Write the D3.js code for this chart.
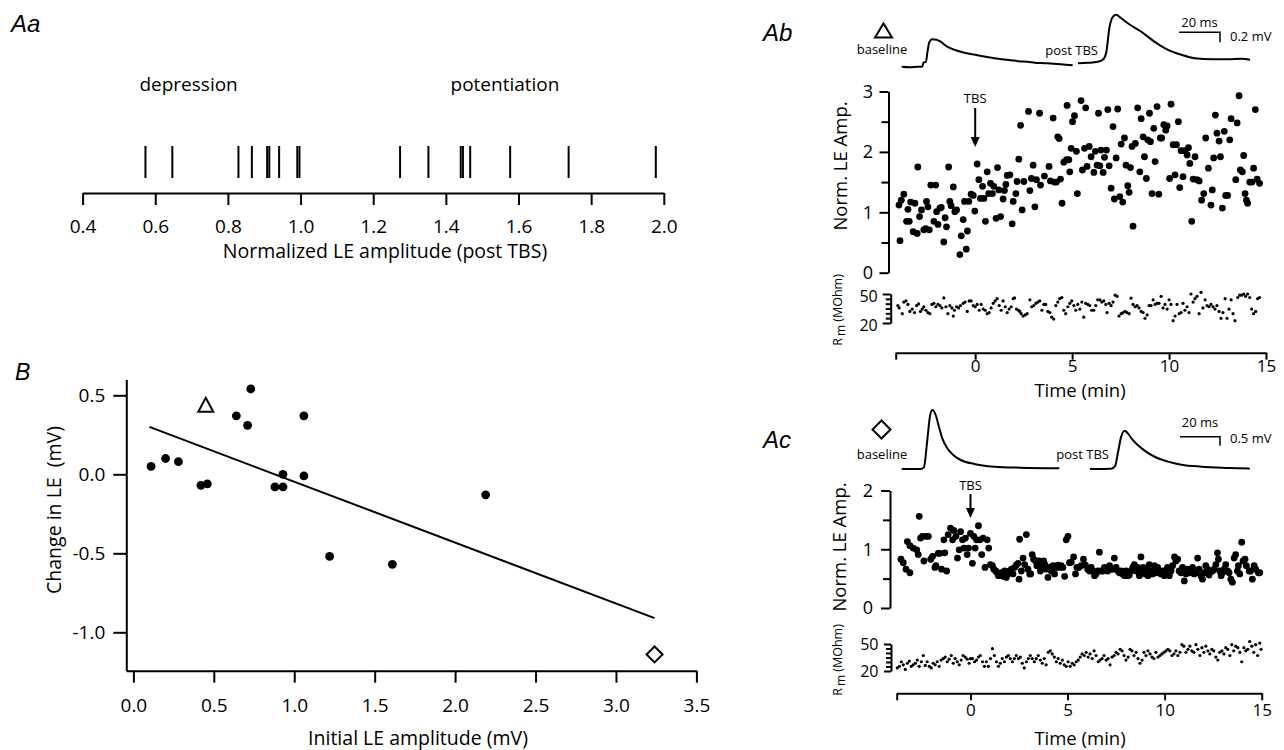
<!DOCTYPE html>
<html>
<head>
<meta charset="utf-8">
<script src="https://cdn.jsdelivr.net/npm/d3@7"></script>
<style>
  body { margin: 0; background: #fff; }
  svg text { fill: #000; }
</style>
</head>
<body>
<svg id="fig" width="1284" height="750"></svg>
<script>
// ---------- Aa : one line per cell, normalized LE amplitude after TBS
var rasterValues = [0.573, 0.647, 0.829, 0.866, 0.908, 0.914, 0.941, 0.991, 0.997, 1.274, 1.352, 1.441, 1.447, 1.467, 1.577, 1.738, 1.978];
var rasterTicks = [0.4, 0.6, 0.8, 1.0, 1.2, 1.4, 1.6, 1.8, 2.0];

// ---------- B : initial amplitude vs change
var initialAmp = [0.11, 0.20, 0.28, 0.42, 0.46, 0.64, 0.71, 0.73, 0.88, 0.93, 0.93, 1.06, 1.06, 1.22, 1.61, 2.19];
var changeLE   = [0.05, 0.10, 0.08, -0.07, -0.06, 0.37, 0.31, 0.54, -0.08, 0.00, -0.08, 0.37, -0.01, -0.52, -0.57, -0.13];
var triangleCell = [0.45, 0.44];
var diamondCell = [3.24, -1.14];
var fitX = [0.10, 3.24];
var fitY = [0.30, -0.91];
var bTicksX = [0, 0.5, 1.0, 1.5, 2.0, 2.5, 3.0, 3.5];
var bTicksY = [-1.0, -0.5, 0.0, 0.5];

// ---------- Ab : potentiated cell (triangle)
var abTime = [-3.88,-3.93,-3.81,-3.68,-3.47,-3.54,-3.40,-3.33,-3.20,-3.11,-2.96,-2.99,-2.87,-2.77,-2.65,-2.56,-2.51,-2.44,-2.37,-2.29,-2.13,-2.04,-1.99,-1.92,-1.82,-1.75,-1.62,-1.55,-1.48,-1.37,-1.31,-1.24,-1.13,-1.05,-0.96,-0.79,-0.72,-0.62,-0.55,-0.46,-0.40,-0.33,-0.21,-0.10,-0.02,0.10,0.19,0.27,0.38,0.45,0.53,0.62,0.70,0.79,0.89,0.96,1.08,1.15,1.22,1.31,1.44,1.51,1.58,1.65,1.79,1.91,1.96,2.10,2.16,2.25,2.34,2.42,2.51,2.75,2.82,2.90,2.99,3.08,3.16,3.32,3.37,3.57,3.81,3.88,4.02,4.09,4.19,4.26,4.33,4.40,4.48,4.57,4.71,4.74,4.83,4.88,4.95,5.02,5.12,5.22,5.27,5.46,5.53,5.64,5.70,5.77,5.88,5.98,6.12,6.20,6.29,6.36,6.43,6.49,6.60,6.67,6.77,6.84,6.91,7.01,7.11,7.18,7.27,7.35,7.46,7.53,7.61,7.70,7.78,7.87,7.94,8.01,8.09,8.14,8.26,8.38,8.49,8.56,8.66,8.73,8.83,8.90,8.99,9.04,9.12,9.21,9.28,9.38,9.47,9.55,9.62,9.73,9.83,9.90,10.03,10.10,10.21,10.31,10.38,10.48,10.55,10.62,10.72,10.82,10.93,11.00,11.07,11.17,11.24,11.34,11.44,11.55,11.68,11.79,11.89,12.03,12.16,12.23,12.30,12.39,12.47,12.58,12.65,12.75,12.85,12.92,13.02,13.13,13.20,13.44,13.51,13.61,13.68,13.78,13.85,13.92,13.99,14.05,14.16,14.28,14.36,14.45,14.54,14.67];
var abAmp = [0.53,1.12,1.20,1.30,1.05,0.85,0.85,1.17,0.68,1.15,1.75,0.65,0.93,1.04,0.71,0.73,1.18,1.09,0.71,1.45,0.85,1.45,1.01,0.80,1.07,1.08,0.51,0.91,0.76,1.75,1.18,1.11,1.42,1.01,1.04,0.30,0.61,0.88,1.18,0.39,0.69,1.18,1.30,1.28,1.02,1.80,1.54,1.23,1.43,1.23,0.85,1.67,1.31,1.48,1.31,1.43,0.90,1.74,1.37,0.93,1.22,1.36,1.46,1.61,1.62,0.81,1.18,1.31,1.51,1.88,2.44,1.04,1.51,2.67,1.36,1.56,1.78,1.09,1.54,2.64,1.45,1.60,1.76,1.52,2.56,1.50,1.50,2.25,2.22,1.55,1.15,1.83,1.87,2.77,1.87,1.67,2.06,2.50,2.60,2.01,1.31,2.85,1.70,2.06,2.73,1.76,2.09,1.92,1.66,2.01,1.78,2.64,1.77,2.03,1.66,1.91,2.03,2.70,1.77,1.40,2.42,1.22,1.90,2.71,1.26,2.13,1.17,2.23,1.78,1.44,1.33,1.74,2.09,0.77,2.14,2.73,1.67,2.55,2.25,1.92,1.56,2.20,2.64,2.17,1.31,2.39,1.84,2.75,1.30,2.23,2.23,2.45,2.36,2.43,1.56,2.79,2.12,1.62,2.12,2.50,1.41,2.02,1.59,2.02,1.95,2.07,1.81,0.85,1.55,1.92,1.54,1.52,1.20,1.31,2.23,1.73,1.12,1.37,1.90,2.61,2.31,2.18,1.92,1.07,2.34,1.28,1.28,2.20,2.55,1.54,2.48,2.93,1.70,1.67,1.94,1.31,1.20,1.15,1.50,1.50,1.73,2.70,1.55,1.48];
var abRmTime = [-3.99,-3.92,-3.76,-3.68,-3.57,-3.47,-3.37,-3.25,-3.13,-3.02,-2.92,-2.82,-2.73,-2.65,-2.54,-2.44,-2.34,-2.23,-2.13,-2.03,-1.92,-1.82,-1.72,-1.62,-1.51,-1.41,-1.31,-1.20,-1.13,-1.07,-0.96,-0.86,-0.76,-0.62,-0.52,-0.41,-0.31,-0.21,-0.10,0.00,0.10,0.21,0.31,0.41,0.52,0.62,0.72,0.82,0.93,1.03,1.13,1.24,1.34,1.44,1.55,1.65,1.75,1.86,1.96,2.03,2.13,2.23,2.30,2.37,2.47,2.58,2.68,2.82,2.92,3.02,3.13,3.23,3.33,3.44,3.54,3.64,3.75,3.85,3.95,4.05,4.16,4.26,4.36,4.47,4.57,4.67,4.78,4.88,4.98,5.09,5.19,5.29,5.40,5.50,5.60,5.70,5.81,5.91,6.01,6.12,6.22,6.32,6.43,6.53,6.63,6.74,6.80,6.91,7.01,7.11,7.22,7.32,7.42,7.53,7.63,7.73,7.84,7.94,8.04,8.14,8.25,8.35,8.45,8.56,8.66,8.76,8.87,8.97,9.07,9.18,9.28,9.38,9.48,9.59,9.69,9.79,9.90,10.00,10.10,10.21,10.31,10.41,10.52,10.62,10.72,10.82,10.93,11.03,11.13,11.24,11.34,11.44,11.55,11.65,11.75,11.86,11.96,12.06,12.16,12.27,12.37,12.47,12.58,12.68,12.78,12.89,12.99,13.09,13.20,13.30,13.40,13.54,13.64,13.75,13.85,13.95,14.05,14.16,14.26,14.36,14.47,14.57,14.67];
var abRm = [38.0,35.6,29.6,41.6,42.8,39.2,32.0,34.4,30.8,38.0,39.7,32.0,34.4,36.8,33.2,30.8,29.6,39.2,40.4,36.8,39.2,38.0,35.6,45.9,36.8,29.6,38.0,35.6,27.2,33.2,36.8,35.6,38.0,40.4,41.6,32.0,42.8,42.8,38.0,36.8,39.2,33.2,39.2,34.4,33.2,29.6,30.8,35.6,40.4,42.8,45.2,38.0,33.2,42.8,36.8,30.8,34.4,36.8,45.2,45.9,34.4,33.2,32.0,29.6,27.2,28.4,29.6,44.0,36.8,38.0,40.4,41.6,42.8,33.2,39.2,39.2,32.0,30.8,26.0,24.1,38.0,41.6,45.2,46.4,33.2,29.6,36.8,40.4,42.8,38.0,33.2,39.2,34.4,41.6,26.0,40.4,39.2,38.0,33.2,33.2,38.0,44.0,44.0,41.6,42.8,39.2,30.8,40.4,38.0,41.6,48.8,47.6,27.2,29.6,30.8,32.0,30.8,29.6,45.7,39.2,36.8,38.0,35.6,32.0,30.8,24.8,28.4,38.0,38.0,44.0,39.2,40.4,40.4,47.6,35.6,39.2,34.4,44.0,39.2,22.4,27.2,39.2,29.6,30.8,40.4,33.2,36.8,30.8,50.0,41.6,45.2,47.6,29.6,51.7,35.6,44.0,38.0,36.8,39.2,36.8,34.4,38.0,32.0,24.8,30.8,45.2,24.8,34.4,44.0,29.6,22.4,46.4,48.8,48.8,50.0,47.6,50.0,46.4,34.4,29.6,32.0,45.2,46.4];
// example sweeps (ms, mV)
var abBaseT = [0,4,8,10,10.6,11.8,12.6,13.4,14.9,17,19,22.2,25,28.8,33,36.9,41,45.1,49,53.2,57,61.4,65,69.6,74,77.7,83.4];
var abBaseV = [0,-0.01,0,0,0.08,0.10,0.30,0.48,0.55,0.54,0.50,0.40,0.35,0.30,0.26,0.23,0.20,0.17,0.15,0.13,0.11,0.10,0.08,0.07,0.06,0.05,0.03];
var abPostT = [0,5,9.7,12.1,13.7,15.4,17.0,18.6,21.1,24.3,30.9,37.4,43.9,50.4,56.9,65.1,73.3,79.8,83.9];
var abPostV = [0,0.01,0.03,0.07,0.20,0.73,0.93,0.97,0.90,0.80,0.63,0.43,0.27,0.17,0.10,0.08,0.08,0.09,0.07];

// ---------- Ac : depressed cell (diamond)
var acTime = [-3.58,-3.46,-3.32,-3.12,-3.25,-3.12,-2.95,-2.77,-2.69,-2.64,-2.57,-2.48,-2.40,-2.29,-2.17,-2.05,-1.95,-1.83,-1.78,-1.66,-1.58,-1.49,-1.37,-1.32,-1.23,-1.15,-1.03,-0.92,-0.86,-0.75,-0.67,-0.58,-0.51,-0.41,-0.34,-0.26,-0.17,-0.10,0.00,0.10,0.17,0.24,0.31,0.41,0.48,0.58,0.65,0.75,0.86,0.94,1.03,1.13,1.20,1.30,1.37,1.44,1.51,1.59,1.68,1.76,1.85,1.93,2.02,2.11,2.19,2.28,2.36,2.45,2.50,2.53,2.62,2.71,2.79,2.88,2.96,3.05,3.10,3.18,3.25,3.36,3.42,3.53,3.60,3.70,3.77,3.84,3.90,3.99,4.08,4.16,4.25,4.33,4.42,4.50,4.59,4.67,4.76,4.85,4.93,5.02,5.10,5.19,5.31,5.41,5.48,5.58,5.70,5.82,5.92,6.04,6.13,6.22,6.30,6.39,6.47,6.56,6.64,6.73,6.82,6.90,6.99,7.07,7.16,7.24,7.33,7.41,7.50,7.59,7.67,7.76,7.84,7.93,8.01,8.10,8.18,8.27,8.36,8.44,8.53,8.61,8.70,8.78,8.84,8.90,9.01,9.08,9.14,9.21,9.32,9.38,9.47,9.55,9.64,9.73,9.81,9.90,9.98,10.07,10.15,10.24,10.33,10.41,10.51,10.58,10.67,10.75,10.84,10.92,11.01,11.10,11.18,11.27,11.35,11.44,11.52,11.61,11.70,11.78,11.87,11.95,12.04,12.12,12.21,12.29,12.38,12.47,12.55,12.64,12.72,12.77,12.84,12.91,12.98,13.07,13.15,13.24,13.32,13.41,13.49,13.58,13.66,13.75,13.80,13.87,13.97,14.04,14.14,14.21,14.35,14.43,14.52,14.61,14.69,14.83,14.90];
var acAmp = [0.83,0.77,0.66,0.60,1.13,1.06,1.02,0.99,0.91,1.56,1.19,1.22,0.80,1.22,1.22,0.83,0.88,0.69,0.72,0.93,0.93,0.66,1.16,0.94,0.63,1.25,1.36,1.16,1.32,1.22,0.85,0.99,1.30,1.16,1.02,1.19,0.91,1.02,1.27,0.76,1.22,1.02,1.16,1.40,1.16,0.91,1.19,0.69,1.16,1.02,0.74,0.72,0.66,0.63,0.60,0.55,0.58,0.60,0.54,0.63,0.52,0.58,0.63,0.66,0.58,0.69,0.73,0.76,0.49,1.17,0.63,0.85,0.74,1.25,0.66,0.58,0.58,0.91,0.83,0.80,0.72,0.80,0.63,0.72,0.80,0.74,0.66,0.52,0.69,0.63,0.72,0.58,0.69,0.73,0.69,0.72,0.69,0.54,1.16,1.22,0.77,0.78,0.87,0.58,0.69,0.69,0.72,0.83,0.73,0.66,0.63,0.69,0.63,0.55,0.58,0.63,0.95,0.63,0.63,0.69,0.66,0.63,0.72,0.66,0.66,0.85,0.69,0.63,0.60,0.63,0.58,0.55,0.63,0.55,0.56,0.63,0.69,0.74,0.63,0.69,0.55,0.87,0.63,0.69,0.58,0.66,0.55,0.74,0.63,0.58,0.72,0.60,0.69,0.63,0.58,0.63,0.55,0.63,0.69,0.55,0.63,0.72,0.87,0.80,0.83,0.63,0.60,0.69,0.46,0.58,0.66,0.60,0.63,0.69,0.58,0.60,0.85,0.66,0.55,0.49,0.60,0.72,0.66,0.56,0.63,0.63,0.66,0.74,0.94,0.83,0.63,0.55,0.60,0.66,0.74,0.63,0.60,0.49,0.44,0.85,0.91,0.63,0.72,0.58,1.12,0.80,0.83,0.72,0.63,0.63,0.49,0.72,0.66,0.60,0.60];
var acRmTime = [-3.77,-3.66,-3.56,-3.46,-3.36,-3.25,-3.15,-3.05,-2.95,-2.84,-2.74,-2.64,-2.53,-2.43,-2.33,-2.23,-2.12,-2.02,-1.92,-1.82,-1.71,-1.61,-1.51,-1.40,-1.30,-1.20,-1.10,-0.99,-0.89,-0.79,-0.68,-0.58,-0.48,-0.38,-0.27,-0.17,-0.07,0.00,0.10,0.21,0.31,0.41,0.51,0.62,0.72,0.82,0.92,1.03,1.13,1.23,1.34,1.44,1.54,1.64,1.75,1.85,1.95,2.05,2.16,2.26,2.36,2.47,2.57,2.67,2.77,2.88,2.98,3.08,3.18,3.29,3.39,3.49,3.60,3.70,3.80,3.90,4.01,4.11,4.21,4.32,4.42,4.52,4.62,4.73,4.83,4.93,5.03,5.14,5.24,5.34,5.45,5.55,5.65,5.75,5.86,5.96,6.06,6.16,6.27,6.37,6.47,6.58,6.68,6.78,6.88,6.99,7.09,7.19,7.29,7.40,7.50,7.60,7.71,7.81,7.91,8.01,8.12,8.22,8.32,8.42,8.53,8.63,8.73,8.84,8.94,9.04,9.14,9.25,9.35,9.45,9.55,9.66,9.76,9.86,9.97,10.07,10.17,10.27,10.38,10.48,10.58,10.68,10.79,10.89,10.99,11.10,11.20,11.30,11.40,11.51,11.61,11.71,11.82,11.92,12.02,12.12,12.23,12.33,12.43,12.53,12.64,12.74,12.84,12.95,13.05,13.15,13.25,13.36,13.46,13.56,13.66,13.77,13.87,13.97,14.08,14.18,14.28,14.38,14.49,14.59,14.69,14.79,14.90,14.97];
var acRm = [23.4,25.2,30.3,26.9,21.7,28.6,31.0,25.2,26.9,28.6,32.1,25.2,30.3,37.2,26.2,30.3,25.2,23.4,28.6,26.9,30.3,25.2,32.1,33.8,35.5,30.3,33.1,37.2,28.6,33.8,30.3,26.9,32.1,37.2,35.5,33.1,28.6,33.8,33.8,30.3,32.1,35.5,37.2,30.3,25.2,30.3,25.2,33.8,44.8,37.2,30.3,25.2,28.6,33.8,30.3,35.5,37.2,33.8,30.3,33.8,37.2,33.8,35.5,28.6,23.4,30.3,33.8,37.2,33.8,30.3,33.8,37.2,32.1,28.6,33.8,26.9,40.7,42.4,39.0,35.5,30.3,33.8,28.6,32.1,26.9,25.2,30.3,25.2,28.6,26.9,30.3,32.1,35.5,39.0,37.2,40.7,35.5,39.0,33.8,42.4,37.2,30.3,32.1,33.8,37.2,32.1,33.8,26.9,35.5,37.2,40.7,39.0,44.1,42.4,37.2,32.1,35.5,44.1,42.4,37.2,40.7,33.8,28.6,32.1,40.7,37.2,42.4,39.0,35.5,33.8,40.7,35.5,37.2,39.0,40.7,42.4,44.1,42.4,37.2,39.0,42.4,37.2,40.7,49.3,47.6,40.7,44.1,47.6,42.4,40.7,49.3,44.1,37.2,45.9,40.7,47.6,42.4,39.0,44.1,42.4,35.5,32.1,40.7,42.4,39.0,45.9,44.1,37.2,49.3,42.4,47.6,45.9,40.7,30.3,45.9,42.4,44.1,52.8,47.6,40.7,49.3,37.2,51.0,44.1];
var acBaseT = [0,9.4,11.1,12.8,14.1,15.3,17.0,18.6,20.3,22.8,26.2,29.5,36.2,46.2,59.6,78.8];
var acBaseV = [0,0,0.09,1.61,2.91,3.28,3.00,2.35,1.70,1.15,0.74,0.50,0.28,0.13,0.07,0.04];
var acPostT = [0,10.6,12.6,13.9,15.6,17.3,18.9,21.4,23.9,27.3,32.3,39.0,45.7,55.7,69.1,79.9];
var acPostV = [0,0.02,0.17,0.87,1.80,2.13,1.98,1.61,1.33,1.02,0.68,0.41,0.24,0.13,0.06,0.02];

var timeTicks = [0, 5, 10, 15];

var FONT = "'Open Sans', Lato, sans-serif";
var LFONT = "'Liberation Sans', Arial, sans-serif";
var svg = d3.select("#fig");
var fmt1 = function(d) { return d.toFixed(1); };

function styleAxis(g, fs) {
  g.attr("font-family", FONT).attr("font-size", fs);
  g.selectAll(".domain, .tick line").attr("stroke", "#000").attr("stroke-width", 2);
  g.selectAll("text").attr("fill", "#000");
  return g;
}

function leftAxis(scale, x, major, minor, majLen, minLen, pad, fs, fmt) {
  if (minor) {
    var m = svg.append("g").attr("transform", "translate(" + x + ",0)")
      .call(d3.axisLeft(scale).tickValues(minor).tickSize(minLen).tickSizeOuter(0).tickFormat(""));
    styleAxis(m, fs);
    m.select(".domain").remove();
  }
  var g = svg.append("g").attr("transform", "translate(" + x + ",0)")
    .call(d3.axisLeft(scale).tickValues(major).tickSize(majLen).tickSizeOuter(0).tickPadding(pad).tickFormat(fmt));
  return styleAxis(g, fs);
}

function bottomAxis(scale, y, ticks, len, labelY, fs, fmt) {
  var g = svg.append("g").attr("transform", "translate(0," + y + ")")
    .call(d3.axisBottom(scale).tickValues(ticks).tickSize(len).tickSizeOuter(0).tickFormat(fmt));
  styleAxis(g, fs);
  g.selectAll("text").attr("y", labelY).attr("dy", 0);
  return g;
}

function text(x, y, s, fs, anchor) {
  return svg.append("text").attr("x", x).attr("y", y).attr("font-family", FONT)
    .attr("font-size", fs).attr("text-anchor", anchor || "middle").text(s);
}

function rotText(x, y, s, fs) {
  return svg.append("text").attr("transform", "translate(" + x + "," + y + ") rotate(-90)")
    .attr("font-family", FONT).attr("font-size", fs).attr("text-anchor", "middle")
    .style("white-space", "pre").text(s);
}

function panelLabel(x, y, s, fs) {
  svg.append("text").attr("x", x).attr("y", y).attr("font-family", LFONT)
    .attr("font-style", "italic").attr("font-size", fs).text(s);
}

function rmLabel(x, y) {
  var t = svg.append("text").attr("transform", "translate(" + x + "," + y + ") rotate(-90)")
    .attr("font-family", FONT).attr("font-size", 12.5).attr("text-anchor", "middle");
  t.append("tspan").text("R");
  t.append("tspan").attr("dx", 2).attr("dy", 3).attr("font-size", 12).text("m");
  t.append("tspan").attr("dy", -3).text(" (MOhm)");
}

function dots(t, v, xs, ys, r) {
  svg.append("g").selectAll("circle").data(d3.zip(t, v)).join("circle")
    .attr("cx", function(d) { return xs(d[0]); })
    .attr("cy", function(d) { return ys(d[1]); })
    .attr("r", r).attr("fill", "#000");
}

function trace(t, v, x0, y0, pxMs, pxMv) {
  var xs = d3.scaleLinear().domain([0, 1]).range([x0, x0 + pxMs]);
  var ys = d3.scaleLinear().domain([0, 1]).range([y0, y0 - pxMv]);
  svg.append("path").datum(d3.zip(t, v))
    .attr("d", d3.line().x(function(d) { return xs(d[0]); }).y(function(d) { return ys(d[1]); }).curve(d3.curveMonotoneX))
    .attr("fill", "none").attr("stroke", "#000").attr("stroke-width", 2).attr("stroke-linejoin", "round");
}

function scaleBar(xr, y, ms, mv, pxMs, pxMv, msLabel, mvLabel, msY, mvY) {
  var w = ms * pxMs, h = mv * pxMv;
  svg.append("path").attr("d", "M" + (xr - w) + "," + y + "H" + xr + "V" + (y + h))
    .attr("fill", "none").attr("stroke", "#000").attr("stroke-width", 1.5);
  text(xr - w / 2, msY, msLabel, 13);
  text(xr + 10, mvY, mvLabel, 13, "start");
}

function tbsArrow(x, yLabel, y0, y1) {
  text(x, yLabel, "TBS", 13);
  svg.append("line").attr("x1", x).attr("x2", x).attr("y1", y0).attr("y2", y1 - 8)
    .attr("stroke", "#000").attr("stroke-width", 2);
  svg.append("path").attr("d", "M" + (x - 4.5) + "," + (y1 - 10) + "L" + (x + 4.5) + "," + (y1 - 10) + "L" + x + "," + y1 + "Z")
    .attr("fill", "#000");
}

function triangle(cx, cy, w, h) {
  svg.append("path").attr("d", "M" + cx + "," + (cy - h / 2) + "L" + (cx + w / 2) + "," + (cy + h / 2) + "L" + (cx - w / 2) + "," + (cy + h / 2) + "Z")
    .attr("fill", "none").attr("stroke", "#000").attr("stroke-width", 2);
}

function diamond(cx, cy, w, h) {
  svg.append("path").attr("d", "M" + cx + "," + (cy - h / 2) + "L" + (cx + w / 2) + "," + cy + "L" + cx + "," + (cy + h / 2) + "L" + (cx - w / 2) + "," + cy + "Z")
    .attr("fill", "none").attr("stroke", "#000").attr("stroke-width", 2);
}

// ================= Aa
panelLabel(11, 32, "Aa", 24);
var xA = d3.scaleLinear().domain([0.4, 2.0]).range([82.6, 663.8]);
svg.append("g").selectAll("line").data(rasterValues).join("line")
  .attr("x1", function(d) { return xA(d); }).attr("x2", function(d) { return xA(d); })
  .attr("y1", 146).attr("y2", 178).attr("stroke", "#000").attr("stroke-width", 2);
bottomAxis(xA, 193, rasterTicks, 12, 40, 19, fmt1);
text(188.6, 91, "depression", 19);
text(505, 91, "potentiation", 19);
text(385, 258, "Normalized LE amplitude (post TBS)", 19.5);

// ================= B
panelLabel(15, 380, "B", 23);
var xB = d3.scaleLinear().domain([-0.044, 3.5]).range([126.3, 696.4]);
var yB = d3.scaleLinear().domain([-1.243, 0.6]).range([670.7, 379.5]);
bottomAxis(xB, 670.7, bTicksX, 12, 41, 19, fmt1);
leftAxis(yB, 126.3, bTicksY, null, 13, 0, 8, 19, fmt1);
svg.append("line").attr("x1", xB(fitX[0])).attr("y1", yB(fitY[0])).attr("x2", xB(fitX[1])).attr("y2", yB(fitY[1]))
  .attr("stroke", "#000").attr("stroke-width", 2);
dots(initialAmp, changeLE, xB, yB, 4.4);
triangle(xB(triangleCell[0]), yB(triangleCell[1]), 15, 14);
diamond(xB(diamondCell[0]), yB(diamondCell[1]), 16, 16);
rotText(61, 510, "Change in LE  (mV)", 19.5);
text(418, 745, "Initial LE amplitude (mV)", 19.5);

// ================= Ab
panelLabel(763, 41, "Ab", 24);
triangle(883.5, 30.5, 17, 14);
text(882, 54, "baseline", 13);
text(1098, 55, "post TBS", 13, "end");
trace(abBaseT, abBaseV, 901.7, 66.7, 2.05, 50);
trace(abPostT, abPostV, 1078, 63.3, 2.05, 50);
scaleBar(1220, 32.3, 20, 0.2, 2.05, 50, "20 ms", "0.2 mV", 27, 41);

var xAb = d3.scaleLinear().domain([-4.1, 15]).range([895.7, 1266]);
var yAb = d3.scaleLinear().domain([0, 3]).range([272.7, 91.5]);
var yAbRm = d3.scaleLinear().domain([20, 50]).range([323, 294]);
leftAxis(yAb, 888.5, [0, 1, 2, 3], [0.5, 1.5, 2.5], 9, 7, 6.5, 18, d3.format("d"));
leftAxis(yAbRm, 890.7, [20, 50], [25, 30, 35, 40, 45], 8, 5, 5, 16, d3.format("d"))
  .selectAll("text").attr("dy", "0.45em");
bottomAxis(xAb, 352.7, [-4.1].concat(timeTicks), 7, 19.3, 17, function(d) { return d < 0 ? "" : d; });
dots(abTime, abAmp, xAb, yAb, 3.4);
dots(abRmTime, abRm, xAb, yAbRm, 1.6);
tbsArrow(xAb(0), 103, 108, 147);
rotText(847, 166, "Norm. LE Amp.", 18.5);
rmLabel(842, 310);
text(1080, 397, "Time (min)", 18.5);

// ================= Ac
panelLabel(763, 448, "Ac", 24);
diamond(881.5, 429.5, 18, 18);
text(882, 459, "baseline", 13);
text(1109, 459, "post TBS", 13, "end");
trace(acBaseT, acBaseV, 901.7, 469, 2.0, 18);
trace(acPostT, acPostV, 1090, 469, 2.0, 18);
scaleBar(1220, 436.7, 20, 0.5, 2.0, 18, "20 ms", "0.5 mV", 426.5, 443);

var xAc = d3.scaleLinear().domain([-3.8, 15]).range([896.7, 1261.7]);
var yAc = d3.scaleLinear().domain([0, 2]).range([608, 490.5]);
var yAcRm = d3.scaleLinear().domain([20, 50]).range([671, 644]);
leftAxis(yAc, 890, [0, 1, 2], [0.5, 1.5], 9, 7, 8, 18, d3.format("d"));
leftAxis(yAcRm, 891, [20, 50], [25, 30, 35, 40, 45], 7, 5, 5.5, 16, d3.format("d"));
bottomAxis(xAc, 693.3, [-3.8].concat(timeTicks), 7, 22.7, 17, function(d) { return d < 0 ? "" : d; });
dots(acTime, acAmp, xAc, yAc, 3.4);
dots(acRmTime, acRm, xAc, yAcRm, 1.6);
tbsArrow(xAc(0), 490, 494, 518);
rotText(846, 547, "Norm. LE Amp.", 18.5);
rmLabel(842, 660);
text(1080, 745, "Time (min)", 18.5);
</script>
</body>
</html>
